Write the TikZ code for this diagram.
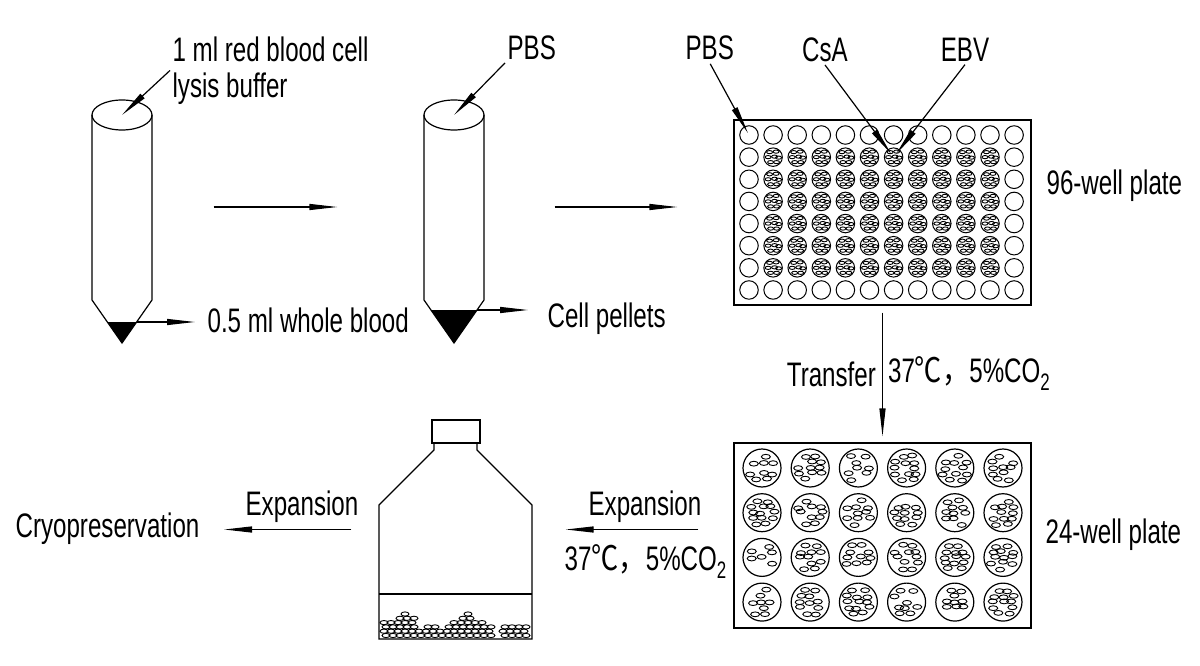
\documentclass[tikz,border=0pt]{standalone}
\usepackage{fontspec}
\setmainfont[FakeStretch=0.71]{Liberation Sans}
\newfontfamily\cjk[FakeStretch=0.8]{Noto Sans CJK SC}
\usetikzlibrary{arrows.meta,calc,positioning}
\tikzstyle{txt}=[inner sep=2pt,font=\fontsize{34}{36}\selectfont,align=left]
\tikzstyle{platebox}=[rectangle,draw=black,line width=1.2pt,inner sep=0pt,
minimum width=297pt,minimum height=185pt]
\tikzstyle{well}=[circle,draw=black,line width=1pt,inner sep=0pt,minimum size=18.5pt]
\tikzstyle{bigwell}=[circle,draw=black,line width=1.2pt,inner sep=0pt,minimum size=38pt]
\tikzstyle{cell}=[line width=0.9pt]
\newcommand{\culture}{37{\cjk ℃，}5\%CO\textsubscript{2}}

\begin{document}
\begin{tikzpicture}[x=1pt,y=-1pt,line width=1.2pt,
    >={Triangle[length=28pt,width=6pt]}]
    \fill[white] (0,0) rectangle (1200,666);
    \coordinate (row) at (0,207);

    % tubes
    \foreach \cx/\py/\nm in {122/322/t1,454/310/t2}{
      \pgfmathsetmacro\hw{30*(343-\py)/43}
      \draw (\cx-30,115) -- (\cx-30,300) -- (\cx,343) -- (\cx+30,300) -- (\cx+30,115);
      \draw (\cx,115) ellipse [x radius=30pt,y radius=15pt];
      \fill (\cx-\hw,\py) -- (\cx+\hw,\py) -- (\cx,343) -- cycle;
      \coordinate (\nm-top) at (\cx,115);
      \coordinate (\nm-pellet) at (\cx+\hw,\py);
      \node[inner sep=0pt,minimum width=60pt,minimum height=243pt] (\nm) at (\cx,221.5) {};
    }
    \node[txt,anchor=north west] (lysis) at (170,34) {1 ml red blood cell\\lysis buffer};
    \node[txt,anchor=base west] (blood) at (205,332) {0.5 ml whole blood};
    \node[txt,anchor=base west] (pbsA) at (505,60) {PBS};
    \node[txt,anchor=base west] (pellets) at (545,327) {Cell pellets};

    \draw[->] (lysis.west) -- (t1-top);
    \draw[->,shorten >=10pt] (t1-pellet) -- (t1-pellet -| blood.west);
    \draw[->] (pbsA.south west) -- (t2-top);
    \draw[->,shorten >=17pt] (t2-pellet) -- (t2-pellet -| pellets.west);
    \draw[->,shorten <=61pt,shorten >=86pt] (t1.east |- row) -- (t2.west |- row);

    % 96-well plate
    \node[platebox] (p96) at (882.5,212.5) {};
    \foreach \r in {1,...,8}
      \foreach \c in {1,...,12}
        \node[well] (w-\r-\c) at (749+24.1*\c-24.1,135+22.14*\r-22.14) {};
    \foreach \r in {2,...,7}
      \foreach \c in {2,...,11}
        \foreach \dx/\dy in {-3.5/-5,3/-5.5,-5/0,1.5/-0.5,5.5/0.5,-2.5/5,3.5/5}
          \draw[cell] ($(w-\r-\c)+(\dx,\dy)$) ellipse [x radius=3pt,y radius=1.6pt];
    \node[txt,anchor=base west] (lab96) at (1044,194) {96-well plate};
    \node[txt,anchor=base west] (pbsB) at (683,60) {PBS};
    \node[txt,anchor=base] (csa) at (825,62) {CsA};
    \node[txt,anchor=base] (ebv) at (965,62) {EBV};
    \draw[->,shorten <=1pt,shorten >=2pt] (pbsB.south) -- (w-1-1.center);
    \draw[->,shorten >=4pt] (csa.south) -- (w-2-7.center);
    \draw[->,shorten >=4pt] (ebv.south) -- (w-2-7.center);
    \draw[->,shorten <=70pt,shorten >=56pt] (t2.east |- row) -- (p96.west |- row);

    % 24-well plate
    \node[platebox] (p24) at (882.5,535.5) {};
    \draw[->,shorten <=7pt,shorten >=6pt] (p96) --
      node[txt,left=4pt] (transfer) {Transfer}
      node[txt,right=3pt] (condA) {\culture} (p24);
    \pgfmathsetseed{7}
    \foreach \r in {1,...,4}
      \foreach \c in {1,...,6}{
        \node[bigwell] (v-\r-\c) at (762+48.2*\c-48.2,468+44.7*\r-44.7) {};
        \foreach \dy/\n in {-11.5/2,-5.5/3,0/3,5.5/3,11.5/2}
          \foreach \i in {1,...,\n}{
            \pgfmathsetmacro\dx{(\i-(\n+1)/2)*10+2.5*rand}
            \pgfmathsetmacro\jy{\dy+1.2*rand}
            \pgfmathsetmacro\keep{rnd}
            \ifdim\keep pt>0.2pt
              \draw[cell] ($(v-\r-\c)+(\dx,\jy)$) ellipse [x radius=4.5pt,y radius=2.4pt];
            \fi
          }
      }
    \node[txt,anchor=base west] (lab24) at (1043,543) {24-well plate};

    % flask
    \node[inner sep=0pt,minimum width=153pt,minimum height=219pt] (flask) at (455.5,529.5) {};
    \draw (432,420) rectangle (480,443);
    \draw (434,443) -- (434,450) -- (379,505) -- (379,639) -- (532,639)
      -- (532,505) -- (477,450) -- (477,443);
    \draw (379,594) -- (532,594);
    \foreach \cx/\h in {384/4,391/4,398/5,405/6,412/5,419/2,426/3,433/3,440/2,447/3,
        454/4,461/5,468/6,475/4,482/4,489/3,503/3,510/3,517/3,524/3}
      \foreach \k in {1,...,\h}
        \draw[cell] ({\cx+mod(\k,2)*2},{635.5-4.3*\k+4.3}) ellipse [x radius=4pt,y radius=2.1pt];

    \node[txt,anchor=base west] (expB) at (586,515) {Expansion};
    \node[txt,anchor=base west] (condB) at (562,570) {\culture};
    \draw[->,shorten <=35pt,shorten >=33pt] (flask.east -| p24.west) -- (flask.east);

    \node[txt,anchor=base west] (cryo) at (13,537) {Cryopreservation};
    \node[txt,anchor=base west] (expA) at (243,515) {Expansion};
    \draw[->,shorten <=27pt,shorten >=22pt] (flask.west) -- (flask.west -| cryo.east);
  \end{tikzpicture}
\end{document}
